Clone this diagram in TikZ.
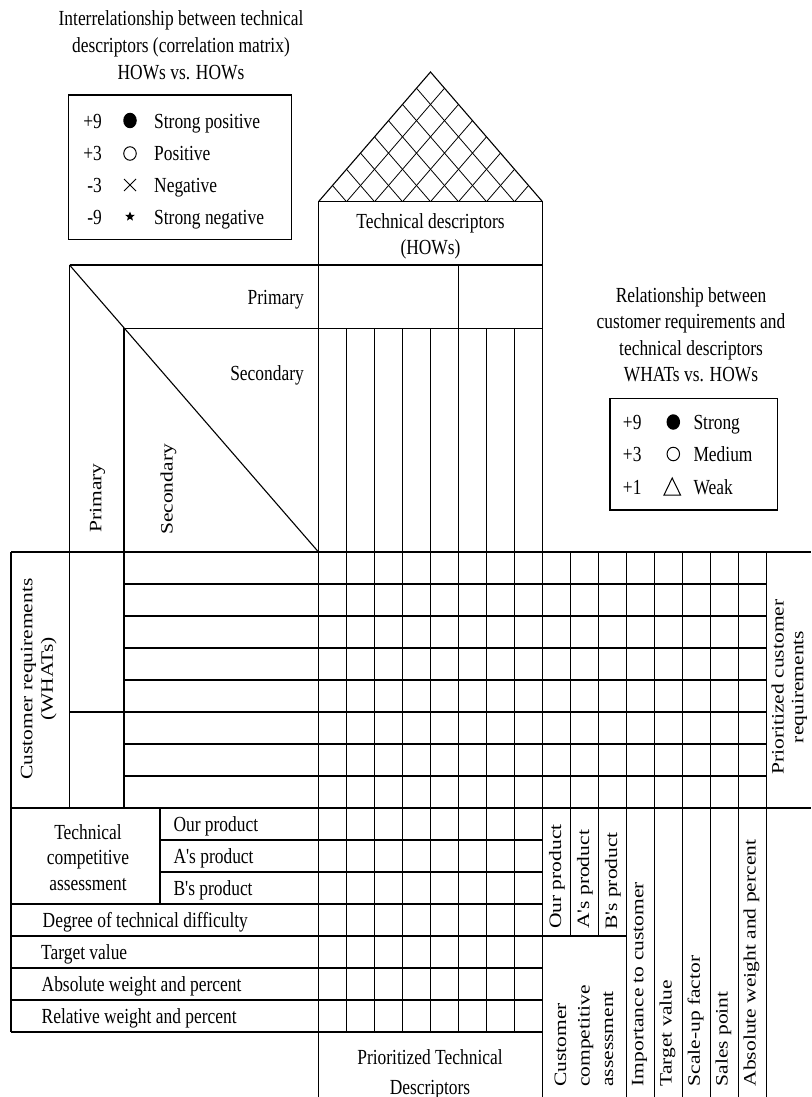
\documentclass[tikz,border=0pt]{standalone}
\usepackage{fontspec}
\usetikzlibrary{shapes.geometric}
\newfontfamily\hfont{Liberation Serif}[FakeStretch=0.81]
\newfontfamily\vfont{Liberation Serif}
% upright text is set narrow; rotated text keeps its length but is thinned across
\newcommand\narrowv[1]{\scalebox{1}[0.81]{#1}}
\newcommand\vlines[2]{\scalebox{1}[0.81]{\begin{tabular}{@{}#1@{}}#2\end{tabular}}}

\tikzset{
  rule/.style={line width=1.1pt},
  hatch/.style={line width=0.8pt},
  sym/.style={line width=1pt},
  lbl/.style={font=\hfont\fontsize{21.5}{27}\selectfont, inner sep=0pt},
  vlbl/.style={font=\vfont\fontsize{21.5}{29}\selectfont, inner sep=0pt, rotate=90},
}

\begin{document}
\begin{tikzpicture}[x=1pt,y=-1pt]
\useasboundingbox (0,0) rectangle (811,1097);
\clip (0,0) rectangle (811,1097);
\fill[white] (0,0) rectangle (811,1097);

% ---------- correlation roof ----------
\coordinate (apex) at (430.5,72);
\coordinate (roofL) at (318.5,201.7);
\coordinate (roofR) at (542.5,201.7);
\draw[rule] (roofL) -- (apex) -- (roofR);
\foreach \j in {1,...,7} {
  \draw[hatch] ({318.5+28*\j},201.7) -- ++({14*(8-\j)},{-16.2125*(8-\j)});
  \draw[hatch] ({318.5+28*\j},201.7) -- ++({-14*\j},{-16.2125*\j});
}

% ---------- technical descriptors box ----------
\draw[rule] (318.5,201.7) rectangle (542.5,265);
\node[lbl, anchor=base] (hows1) at (430.5,228) {Technical descriptors};
\node[lbl, anchor=base] (hows2) at (430.5,254) {(HOWs)};

% ---------- primary / secondary headings ----------
\draw[rule] (69.5,265) -- (542.5,265);
\draw[rule] (124,328.3) -- (542.5,328.3);
\draw[rule] (458.5,265) -- (458.5,328.3);
\draw[rule] (69.5,265) -- (318.5,552);
\draw[rule] (69.5,265) -- (69.5,808);
\draw[rule] (124,328.3) -- (124,808);
\node[lbl, anchor=base east] (hprim) at (304,304) {Primary};
\node[lbl, anchor=base east] (hsec) at (304,380) {Secondary};
\node[vlbl, anchor=west] (vprim) at (97.5,533) {\narrowv{Primary}};
\node[vlbl, anchor=west] (vsec) at (168.5,535) {\narrowv{Secondary}};

% ---------- main verticals ----------
\draw[rule] (318.5,201.7) -- (318.5,1097);
\draw[rule] (542.5,201.7) -- (542.5,1097);
\foreach \j in {1,...,7}
  \draw[rule] ({318.5+28*\j},328.3) -- ({318.5+28*\j},1032);
\foreach \j in {9,10}
  \draw[rule] ({318.5+28*\j},552) -- ({318.5+28*\j},936);
\foreach \j in {11,...,16}
  \draw[rule] ({318.5+28*\j},552) -- ({318.5+28*\j},1097);
\draw[rule] (542.5,936) -- (626.5,936);

% ---------- rows of the relationship matrix ----------
\draw[rule] (11,552) -- (811,552);
\draw[rule] (11,808) -- (811,808);
\foreach \k in {1,2,3,4,6,7}
  \draw[rule] (124,{552+32*\k}) -- (766.5,{552+32*\k});
\draw[rule] (69.5,712) -- (766.5,712);
\draw[rule] (11,552) -- (11,1032);

% ---------- technical assessment rows ----------
\draw[rule] (160,808) -- (160,904);
\foreach \k in {9,10}
  \draw[rule] (160,{552+32*\k}) -- (542.5,{552+32*\k});
\foreach \k in {11,...,15}
  \draw[rule] (11,{552+32*\k}) -- (542.5,{552+32*\k});

% ---------- left labels ----------
\node[vlbl, font=\vfont\fontsize{21.5}{25.5}\selectfont, anchor=center] (whats) at (38.5,679)
  {\vlines{c}{Customer requirements\\(WHATs)}};
\node[lbl, anchor=base] (tca1) at (88,839) {Technical};
\node[lbl, anchor=base] (tca2) at (88,864.5) {competitive};
\node[lbl, anchor=base] (tca3) at (88,890) {assessment};
\node[lbl, anchor=base west] (ourL) at (173.3,831) {Our product};
\node[lbl, anchor=base west] (aL) at (173.3,863) {A's product};
\node[lbl, anchor=base west] (bL) at (173.3,895) {B's product};
\node[lbl, anchor=base west] (diff) at (42.5,927) {Degree of technical difficulty};
\node[lbl, anchor=base west] (tvL) at (41,959) {Target value};
\node[lbl, anchor=base west] (absL) at (41.5,991) {Absolute weight and percent};
\node[lbl, anchor=base west] (relL) at (41.5,1023) {Relative weight and percent};
\node[lbl, anchor=base] (ptd1) at (430,1064) {Prioritized Technical};
\node[lbl, anchor=base] (ptd2) at (430,1094) {Descriptors};

% ---------- right labels ----------
\node[vlbl, font=\vfont\fontsize{21.5}{24.5}\selectfont, anchor=center] (pcr) at (789.5,687)
  {\vlines{c}{Prioritized customer\\requirements}};
\node[vlbl, anchor=west] (ourR) at (557,929) {\narrowv{Our product}};
\node[vlbl, anchor=west] (aR) at (585,929) {\narrowv{A's product}};
\node[vlbl, anchor=west] (bR) at (613,930) {\narrowv{B's product}};
\node[vlbl, anchor=west] (cca) at (585,1087) {\vlines{l}{Customer\\competitive\\assessment}};
\node[vlbl, anchor=west] (imp) at (639.5,1086.5) {\narrowv{Importance to customer}};
\node[vlbl, anchor=west] (tvR) at (667.5,1086.5) {\narrowv{Target value}};
\node[vlbl, anchor=west] (scale) at (695.5,1086.5) {\narrowv{Scale-up factor}};
\node[vlbl, anchor=west] (sales) at (723.5,1086.5) {\narrowv{Sales point}};
\node[vlbl, anchor=west] (absR) at (751.5,1086.5) {\narrowv{Absolute weight and percent}};

% ---------- correlation legend ----------
\node[lbl, anchor=base] (ct1) at (181,26) {Interrelationship between technical};
\node[lbl, anchor=base] (ct2) at (181,53) {descriptors (correlation matrix)};
\node[lbl, anchor=base] (ct3) at (181,80) {HOWs vs. HOWs};
\draw[rule] (68.3,95) rectangle (291.7,239.3);
\node[lbl, anchor=base east] (cn1) at (102,128.5) {+9};
\node[lbl, anchor=base east] (cn2) at (102,160.5) {+3};
\node[lbl, anchor=base east] (cn3) at (102,192.5) {-3};
\node[lbl, anchor=base east] (cn4) at (102,224.5) {-9};
\node[ellipse, fill, minimum width=13.5pt, minimum height=15.5pt, inner sep=0pt] (cs1) at (130,120.5) {};
\node[ellipse, draw, sym, minimum width=12.5pt, minimum height=13.5pt, inner sep=0pt] (cs2) at (130,153.5) {};
\draw[sym] (124,179) -- (136,191) (124,191) -- (136,179);
\node[star, star points=5, star point ratio=2.3, fill, minimum size=10pt, inner sep=0pt] (cs4) at (130,216.5) {};
\node[lbl, anchor=base west] (cw1) at (154,128.5) {Strong positive};
\node[lbl, anchor=base west] (cw2) at (154,160.5) {Positive};
\node[lbl, anchor=base west] (cw3) at (154,192.5) {Negative};
\node[lbl, anchor=base west] (cw4) at (154,224.5) {Strong negative};

% ---------- relationship legend ----------
\node[lbl, anchor=base] (rt1) at (691,302) {Relationship between};
\node[lbl, anchor=base] (rt2) at (691,328.5) {customer requirements and};
\node[lbl, anchor=base] (rt3) at (691,355) {technical descriptors};
\node[lbl, anchor=base] (rt4) at (691,381.5) {WHATs vs. HOWs};
\draw[rule] (610,398.3) rectangle (777.3,510);
\node[lbl, anchor=base east] (rn1) at (641.7,429.5) {+9};
\node[lbl, anchor=base east] (rn2) at (641.7,461.5) {+3};
\node[lbl, anchor=base east] (rn3) at (641.7,494) {+1};
\node[ellipse, fill, minimum width=13.5pt, minimum height=15.5pt, inner sep=0pt] (rs1) at (673.3,422) {};
\node[ellipse, draw, sym, minimum width=12.5pt, minimum height=13.5pt, inner sep=0pt] (rs2) at (673.3,454) {};
\draw[sym] (664,495) -- (680.5,495) -- (672.2,478) -- cycle;
\node[lbl, anchor=base west] (rw1) at (693.3,429.5) {Strong};
\node[lbl, anchor=base west] (rw2) at (693.3,461.5) {Medium};
\node[lbl, anchor=base west] (rw3) at (693.3,494) {Weak};
\end{tikzpicture}
\end{document}
